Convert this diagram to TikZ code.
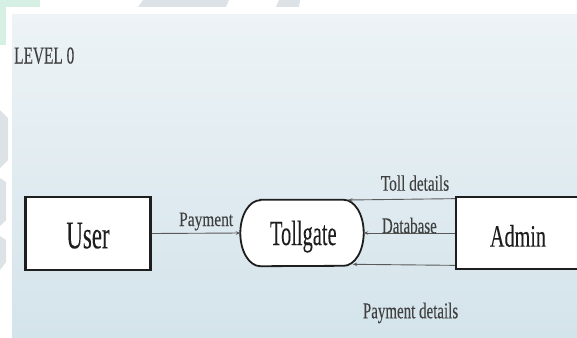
\documentclass[tikz,border=0pt]{standalone}
\usepackage{fontspec}
\setmainfont{Liberation Serif}[FakeBold=0.15]
\usetikzlibrary{arrows.meta}
\definecolor{panelTop}{HTML}{EDF3F6}
\definecolor{panelBot}{HTML}{D4E4EB}
\definecolor{wmGreen}{HTML}{D6F0E4}
\definecolor{wmGray}{HTML}{DDE2E6}
\definecolor{ink}{HTML}{1E1E1E}
\definecolor{wire}{HTML}{5A5A5A}
\tikzset{
  entity/.style={draw=ink, line width=2.2pt, fill=white, text=ink,
    minimum width=125pt, minimum height=73pt, inner sep=0pt},
  flow/.style={draw=wire, line width=0.9pt,
    -{Stealth[length=4.5pt,width=3.5pt]}},
  lbl/.style={text=ink!85, inner sep=0pt, anchor=base west},
}
% condensed serif text: #1 size, #2 horizontal squeeze, #3 text
\newcommand{\sq}[3]{\scalebox{#2}[1]{\fontsize{#1}{#1}\selectfont #3}}
\begin{document}
\begin{tikzpicture}[x=1pt, y=-1pt]
  \useasboundingbox (0,0) rectangle (577,337);
  \clip (0,0) rectangle (577,337);
  \fill[white] (0,0) rectangle (577,337);

  % faint watermark pieces in the margin
  \fill[wmGreen] (0,0) rectangle (40,7);
  \fill[wmGreen] (0,7) rectangle (6,45);
  \fill[wmGray] (143,0) -- (229,0) -- (226,7) -- (138,7) -- cycle;
  \fill[wmGray] (279,0) -- (300,0) -- (299,7) -- (276,7) -- cycle;
  \fill[wmGray] (0,110) -- (8,118) -- (8,160) -- (0,168) -- cycle;
  \fill[wmGray] (0,178) -- (6,182) -- (6,220) -- (0,226) -- cycle;
  \fill[wmGray] (0,236) -- (6,240) -- (6,262) -- (0,270) -- cycle;

  % background panel
  \shade[top color=panelTop, bottom color=panelBot] (12,15) rectangle (577,337);

  \node[lbl, text=ink!85] (lvl) at (14,63.5) {\sq{24.2}{0.634}{LEVEL 0}};

  % entities
  \node[entity, text height=29.6pt, text depth=0pt] (user) at (88,233.5)
    {\sq{39.3}{0.584}{User}};
  \node[entity, minimum width=124pt, minimum height=72.5pt,
        text height=27.4pt, text depth=0pt] (adm) at (518,233)
    {\sq{31.3}{0.644}{Admin}};

  % process (terminator shape with elliptical ends)
  \node[inner sep=0pt, minimum width=123pt, minimum height=66pt] (tg) at (302,233) {};
  \draw[draw=ink, line width=1.8pt, fill=white]
    ([xshift=20pt]tg.north west) -- ([xshift=-20pt]tg.north east)
    arc[start angle=90, end angle=-90, x radius=20pt, y radius=33pt]
    -- ([xshift=20pt]tg.south west)
    arc[start angle=270, end angle=90, x radius=20pt, y radius=33pt]
    -- cycle;
  \node[text=ink, inner sep=0pt, anchor=base] (tgText) at (303.3,245)
    {\sq{35.2}{0.58}{Tollgate}};

  % flow end points on the process outline
  \coordinate (tdEnd) at (348,200);
  \coordinate (pdEnd) at (352.7,264.3);

  % data flows
  \draw[flow] (user.east) -- (tg.west);
  \draw[flow] ([yshift=-3pt]adm.north west) -- (tdEnd);
  \draw[flow] (adm.west) -- (tg.east);
  \draw[flow] ([yshift=5pt]adm.south west) -- (pdEnd);

  % flow labels
  \node[lbl] (lPay) at (179,226) {\sq{20.4}{0.756}{Payment}};
  \node[lbl] (lToll) at (380.7,190.7) {\sq{22.2}{0.69}{Toll details}};
  \node[lbl] (lDb) at (381.7,233.3) {\sq{22.7}{0.66}{Database}};
  \node[lbl] (lPayD) at (362.7,318.3) {\sq{22.7}{0.66}{Payment details}};
\end{tikzpicture}
\end{document}
